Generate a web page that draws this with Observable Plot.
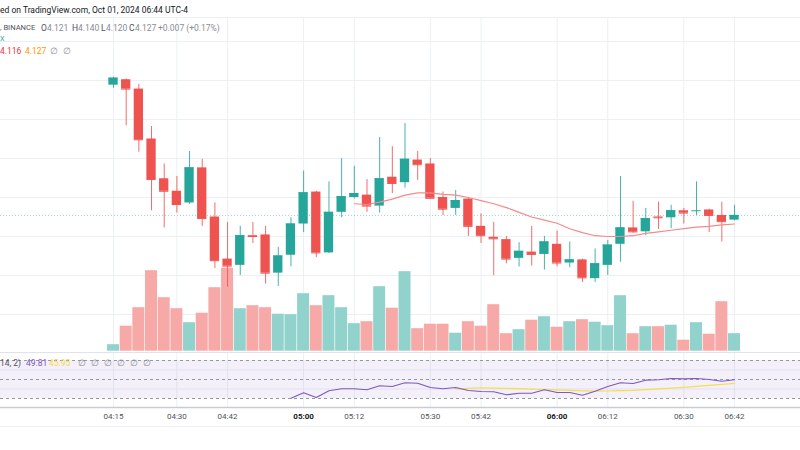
<!DOCTYPE html>
<html><head><meta charset="utf-8">
<script src="https://cdn.jsdelivr.net/npm/d3@7"></script>
<script src="https://cdn.jsdelivr.net/npm/@observablehq/plot@0.6"></script>
<style>
html,body{margin:0;padding:0;background:#fff;}
#root{position:relative;width:800px;height:450px;overflow:hidden;font-family:Roboto,"Liberation Sans",sans-serif;}
.layer{position:absolute;left:0;}
.t{position:absolute;white-space:nowrap;font-size:8.5px;line-height:10px;color:#131722;}
</style></head><body><div id="root"></div>
<script>
// ---------- data ----------
const barStart = "04:15";
const barMinutes = 3;
const opens  = [4.294,4.301,4.289,4.225,4.174,4.158,4.143,4.188,4.125,4.071,4.063,4.101,4.102,4.053,4.076,4.116,4.157,4.079,4.131,4.150,4.153,4.139,4.176,4.169,4.198,4.193,4.150,4.136,4.148,4.113,4.099,4.096,4.072,4.080,4.077,4.090,4.066,4.070,4.046,4.063,4.090,4.111,4.106,4.125,4.124,4.133,4.133,4.134,4.127,4.121];
const highs  = [4.304,4.302,4.295,4.241,4.193,4.177,4.209,4.199,4.143,4.118,4.113,4.118,4.113,4.086,4.124,4.184,4.158,4.170,4.200,4.190,4.173,4.227,4.215,4.245,4.209,4.200,4.157,4.159,4.149,4.129,4.118,4.100,4.092,4.113,4.100,4.107,4.093,4.071,4.084,4.095,4.177,4.145,4.136,4.144,4.140,4.136,4.170,4.135,4.144,4.140];
const lows   = [4.290,4.242,4.208,4.133,4.111,4.130,4.141,4.113,4.059,4.035,4.050,4.091,4.039,4.036,4.061,4.105,4.073,4.078,4.124,4.148,4.131,4.130,4.155,4.162,4.172,4.148,4.127,4.127,4.100,4.091,4.050,4.065,4.061,4.062,4.057,4.061,4.060,4.041,4.041,4.050,4.067,4.104,4.101,4.109,4.110,4.116,4.127,4.105,4.093,4.120];
const closes = [4.303,4.289,4.224,4.173,4.158,4.141,4.188,4.123,4.069,4.062,4.101,4.100,4.053,4.075,4.116,4.156,4.079,4.131,4.151,4.155,4.139,4.174,4.168,4.199,4.192,4.149,4.135,4.146,4.113,4.101,4.097,4.071,4.081,4.077,4.093,4.066,4.070,4.047,4.065,4.089,4.111,4.106,4.123,4.124,4.133,4.130,4.133,4.127,4.119,4.127];
const volumes = [13,50,87,161,107,85,57,76,127,166,85,91,87,74,73,115,91,111,87,55,59,129,86,159,45,54,54,36,59,50,93,35,43,62,69,48,59,63,58,51,111,35,49,49,52,22,57,34,99,35];
const ma20 = [null,null,null,null,null,null,null,null,null,null,null,null,null,null,null,null,null,null,null,
  4.142,4.141,4.144,4.148,4.153,4.156,4.156,4.154,4.153,4.150,4.146,4.142,4.137,4.131,4.125,4.121,4.117,4.110,4.105,4.101,4.100,4.100,4.101,4.104,4.106,4.108,4.110,4.112,4.113,4.115,4.116];
const rsi14 = [null,null,null,null,null,null,null,null,null,null,null,null,null,null,
  30.3,36.0,31.1,38.1,40.2,40.2,39.2,43.4,42.6,46.5,46.1,41.6,40.2,41.6,38.4,37.4,37.1,33.9,35.6,35.6,39.2,36.3,36.3,33.5,37.7,42.6,46.5,45.8,49.3,49.7,51.1,50.7,51.1,50.0,48.2,49.81];
const rsiMa = [null,null,null,null,null,null,null,null,null,null,null,null,null,null,null,null,null,null,null,null,null,null,null,null,null,null,null,
  40.2,40.7,41.3,40.9,40.6,40.3,39.9,39.5,39.1,38.6,38.1,37.7,37.9,38.2,38.6,39.3,40.1,40.9,41.8,42.8,43.9,44.9,45.95];
const tickLabels = ["04:15","04:30","04:42","05:00","05:12","05:30","05:42","06:00","06:12","06:30","06:42"];
const priceTicks = [4.00,4.05,4.10,4.15,4.20,4.25,4.30,4.35];
const rsiLevels = [30,50,70];
const rsiMinor = [40,60];

// ---------- build ----------
const teal = "#26a69a", red = "#ef5350";
const MIN = 60000;
const day = (h,m,s=0) => new Date(Date.UTC(2024,9,1,h,m,s));
const [bh,bm] = barStart.split(":").map(Number);
const base = day(bh,bm).getTime();
const candles = opens.map((o,i) => {
  const t = base + i*barMinutes*MIN;
  return {t:new Date(t), b1:new Date(t-1.1*MIN), b2:new Date(t+1.1*MIN), v1:new Date(t-1.42*MIN), v2:new Date(t+1.42*MIN),
    open:o, high:highs[i], low:lows[i], close:closes[i], vol:volumes[i], ma:ma20[i], rsi:rsi14[i], rsiMa:rsiMa[i],
    up: closes[i] >= o};
});
const tickDates = tickLabels.map(s => { const [h,m] = s.split(":").map(Number); return day(h,m); });
const xOpt = {type:"utc", domain:[day(3,48,15), day(6,57,37)], range:[0,800], axis:null};
const gridC = "#ebf0f5";
const root = document.getElementById("root");
function place(svg, top){ svg.classList.add("layer"); svg.style.top = top+"px"; svg.style.background="transparent"; root.appendChild(svg); }

// price grid
place(Plot.plot({width:800,height:334,margin:0,x:xOpt,y:{domain:[4.0,4.3],range:[297,63],axis:null},
  style:{background:"transparent"},
  marks:[
    Plot.gridX(tickDates,{stroke:gridC,strokeOpacity:1}),
    Plot.gridY(priceTicks,{stroke:gridC,strokeOpacity:1}),
    Plot.frame({anchor:"top",stroke:gridC,strokeOpacity:1})
  ]}),17);

// volume
place(Plot.plot({width:800,height:334,margin:0,x:xOpt,y:{domain:[0,166],range:[333.7,250.7],axis:null},
  style:{background:"transparent"},
  marks:[
    Plot.rectY(candles,{x1:"v1",x2:"v2",y:"vol",fill:d=>d.up?"#92d2cc":"#f7a9a7"})
  ]}),17);

// candles
place(Plot.plot({width:800,height:334,margin:0,x:xOpt,y:{domain:[4.0,4.3],range:[297,63],axis:null},
  style:{background:"transparent"},
  marks:[
    Plot.ruleY([closes[closes.length-1]],{stroke:teal,strokeDasharray:"1,2",strokeOpacity:0.45}),
    Plot.ruleX(candles,{x:"t",y1:"low",y2:"high",stroke:d=>d.up?teal:red,strokeWidth:1,strokeOpacity:0.85}),
    Plot.rect(candles,{x1:"b1",x2:"b2",y1:"open",y2:"close",fill:d=>d.up?teal:red}),
    Plot.ruleY(candles,{y:"close",x1:"b1",x2:"b2",stroke:d=>d.up?teal:red}),
    Plot.line(candles.filter(d=>d.ma!=null),{x:"t",y:"ma",stroke:"#f58a8a",strokeWidth:1.2})
  ]}),17);

// RSI pane + time axis
place(Plot.plot({width:800,height:74,marginTop:0,marginBottom:19,marginLeft:0,marginRight:0,x:xOpt,
  y:{domain:[30,70],range:[46,8],axis:null},
  style:{background:"transparent"},
  marks:[
    Plot.gridX(tickDates,{stroke:gridC,strokeOpacity:1}),
    Plot.rect([0],{y1:rsiLevels[0],y2:rsiLevels[2],fill:"#7e57c2",fillOpacity:0.09}),
    Plot.ruleY(rsiMinor,{stroke:"#e4def0",strokeOpacity:1}),
    Plot.ruleY(rsiLevels,{stroke:"#9598a1",strokeDasharray:"3,3"}),
    Plot.line(candles.filter(d=>d.rsiMa!=null),{x:"t",y:"rsiMa",stroke:"#f5df4d",strokeWidth:1.2}),
    Plot.line(candles.filter(d=>d.rsi!=null),{x:"t",y:"rsi",stroke:"#7e57c2",strokeWidth:1.1}),
    Plot.frame({anchor:"top",stroke:"#e0e3eb"}),
    Plot.frame({anchor:"bottom",stroke:"#c9ccd4",strokeWidth:1.6}),
    Plot.text(tickLabels.filter(s=>!s.endsWith(":00")),{x:s=>tickDates[tickLabels.indexOf(s)],text:d=>d,frameAnchor:"bottom",lineAnchor:"top",dy:6,fontSize:8,fill:"#50535e",fontFamily:"Roboto"}),
    Plot.text(tickLabels.filter(s=>s.endsWith(":00")),{x:s=>tickDates[tickLabels.indexOf(s)],text:d=>d,frameAnchor:"bottom",lineAnchor:"top",dy:6,fontSize:8,fill:"#131722",fontWeight:"bold",fontFamily:"Roboto"})
  ]}),352);

// bottom border of time axis
const ln = document.createElement("div");
ln.style.cssText="position:absolute;left:0;top:426px;width:800px;height:1px;background:#eef0f3;";
root.appendChild(ln);

// ---------- header texts ----------
function txt(s, x, y, color, extra){ const d=document.createElement("div"); d.className="t"; d.textContent=s;
  d.style.left=x+"px"; d.style.top=(y-5)+"px"; if(color) d.style.color=color; if(extra) Object.assign(d.style, extra); root.appendChild(d); return d; }
const dark="#131722", mid="#50535e", grey="#8a8d96";
txt("ed on TradingView.com, Oct 01, 2024 06:44 UTC-4",0,10,dark);
txt(", BINANCE",0,28,mid,{fontSize:"7.6px"});
txt("O",41,28,mid); txt("4.121",47,28,grey);
txt("H",72,28,mid); txt("4.140",78,28,grey);
txt("L",101,28,mid); txt("4.120",106,28,grey);
txt("C",129,28,mid); txt("4.127",135,28,grey);
txt("+0.007 (+0.17%)",158,28,grey);
txt("X",0,39,teal,{fontSize:"7px"});
txt("4.116",0,51,"#f23645");
txt("4.127",25,51,"#ff9800");
txt("∅",50,51,grey); txt("∅",63,51,grey);
txt("14, 2)",0,363,mid);
txt("49.81",26,363,"#7e57c2");
txt("45.95",49,363,"#f5d94d");
[78,91,104,117,130,143].forEach(x=>txt("∅",x,363,grey));
</script></body></html>
